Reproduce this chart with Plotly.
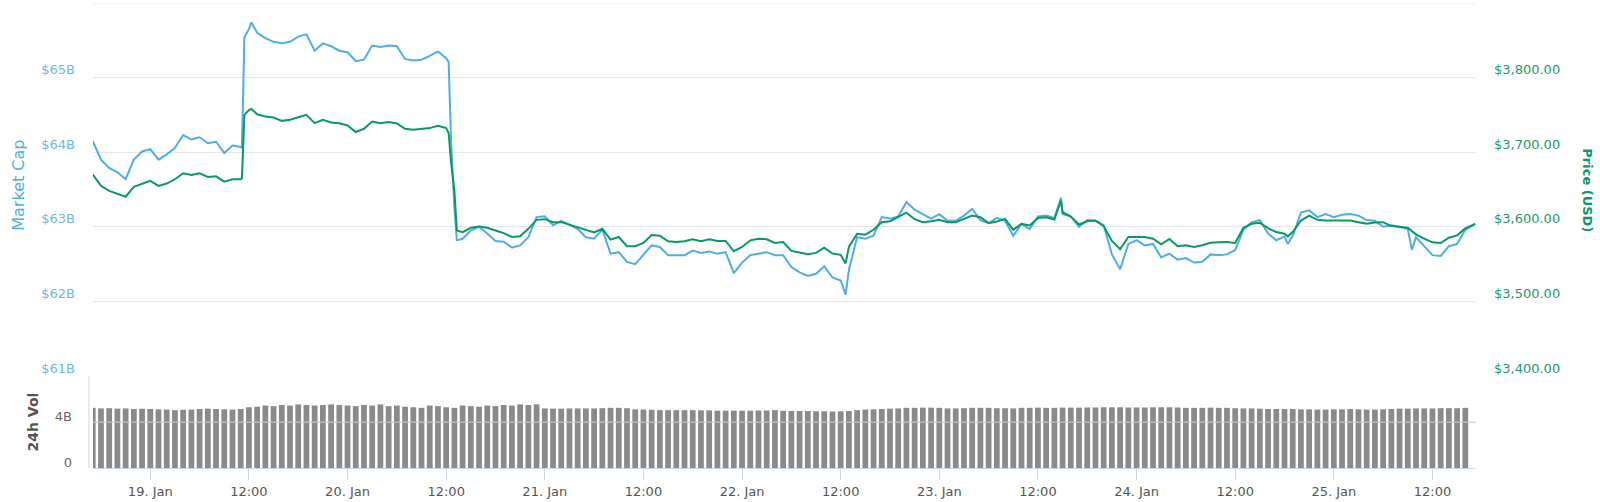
import pandas as pd
import plotly.graph_objects as go

# hours relative to 19 Jan 2019 00:00
hours = [-7, -6, -5, -4, -3, -2, -1, 0, 1, 2, 3, 4, 5, 6, 7, 8, 9, 10, 11, 11.15, 11.45,
         12, 12.3, 13, 14, 15, 16, 17, 18, 19, 20, 21, 22, 23, 24, 25, 26, 27, 28, 29, 30,
         31, 32, 33, 34, 35, 36, 36.3, 36.6, 37, 37.3, 38, 39, 40, 41, 42, 43, 44, 45,
         46, 47, 48, 49, 50, 51, 52, 53, 54, 55, 56, 57, 58, 59, 60, 61, 62, 63, 64,
         65, 66, 67, 68, 69, 70, 71, 72, 73, 74, 75, 76, 77, 78, 79, 80, 81, 82, 83,
         84, 84.6, 85, 86, 87, 88, 89, 90, 91, 92, 93, 94, 95, 96, 97, 98, 99, 100,
         101, 102, 103, 104, 105, 106, 107, 108, 109, 110, 110.8, 111, 112, 113, 114,
         115, 116, 117, 118, 119, 120, 121, 122, 123, 124, 125, 126, 127, 128, 129,
         130, 131, 132, 133, 134, 135, 136, 137, 138, 138.4, 139, 140, 141, 142, 143,
         144, 145, 146, 147, 148, 149, 150, 151, 152, 153, 153.5, 154, 155, 156, 157,
         158, 159, 160, 161.2]

market_cap_b = [64.15, 63.90, 63.79, 63.73, 63.64, 63.90, 64.01, 64.04, 63.90, 63.97, 64.06,
                64.23, 64.17, 64.20, 64.12, 64.14, 63.99, 64.09, 64.07, 64.06, 65.54,
                65.65, 65.74, 65.60, 65.53, 65.48, 65.46, 65.48, 65.55, 65.58, 65.36, 65.46,
                65.42, 65.36, 65.34, 65.22, 65.24, 65.43, 65.41, 65.43, 65.42, 65.25,
                65.23, 65.24, 65.29, 65.35, 65.26, 65.21, 64.15, 63.26, 62.82, 62.84,
                62.95, 63.00, 62.91, 62.81, 62.80, 62.72, 62.75, 62.86, 63.13, 63.14,
                63.02, 63.08, 63.03, 62.97, 62.86, 62.84, 62.96, 62.64, 62.66, 62.53,
                62.50, 62.63, 62.75, 62.73, 62.62, 62.62, 62.62, 62.68, 62.65, 62.67,
                62.64, 62.66, 62.38, 62.52, 62.62, 62.64, 62.66, 62.62, 62.62, 62.46,
                62.39, 62.34, 62.37, 62.47, 62.32, 62.28, 62.09, 62.42, 62.86, 62.84,
                62.88, 63.13, 63.11, 63.14, 63.33, 63.23, 63.17, 63.11, 63.17, 63.08,
                63.08, 63.15, 63.24, 63.09, 63.05, 63.12, 63.08, 62.88, 63.04, 62.97,
                63.14, 63.15, 63.12, 63.39, 63.17, 63.14, 63.00, 63.09, 63.08, 63.02,
                62.63, 62.43, 62.77, 62.82, 62.75, 62.77, 62.59, 62.64, 62.56, 62.58,
                62.52, 62.53, 62.63, 62.62, 62.63, 62.69, 62.96, 63.06, 63.09, 62.91,
                62.82, 62.87, 62.77, 62.88, 63.19, 63.22, 63.13, 63.17, 63.13, 63.16,
                63.17, 63.15, 63.09, 63.08, 63.00, 63.02, 63.00, 62.97, 62.69, 62.86,
                62.74, 62.62, 62.61, 62.74, 62.77, 62.96, 63.04]

price_usd = [3670.3, 3654.9, 3648.2, 3643.8, 3640.3, 3653.5, 3657.1, 3661.5, 3654.9, 3658.0,
             3663.7, 3671.7, 3669.5, 3671.7, 3666.8, 3667.7, 3660.6, 3663.7, 3663.7, 3665.0,
             3750.0, 3756.6, 3758.0, 3750.9, 3747.8, 3746.5, 3742.0, 3743.4, 3746.9, 3750.0, 3738.9,
             3743.4, 3739.8, 3738.9, 3735.8, 3727.0, 3731.4, 3741.1, 3738.9, 3740.3, 3738.5,
             3731.4, 3730.1, 3731.4, 3732.3, 3735.4, 3732.3, 3725.7, 3686.0, 3648.2, 3595.1,
             3592.9, 3598.7, 3600.4, 3598.7, 3595.1, 3591.6, 3586.3, 3587.2, 3597.3, 3609.3,
             3610.2, 3606.2, 3606.2, 3602.6, 3599.5, 3596.0, 3592.5, 3597.3, 3582.7, 3586.3,
             3573.9, 3573.9, 3578.3, 3588.9, 3588.0, 3580.5, 3579.6, 3580.5, 3583.2, 3580.5,
             3583.2, 3581.0, 3581.0, 3567.2, 3573.0, 3581.8, 3584.1, 3583.2, 3578.3, 3579.6,
             3567.7, 3565.5, 3563.3, 3565.0, 3572.1, 3564.1, 3562.4, 3550.9, 3573.0, 3590.7,
             3589.4, 3596.0, 3606.2, 3607.5, 3612.8, 3619.0, 3610.2, 3606.2, 3607.5, 3609.3,
             3606.2, 3606.2, 3610.6, 3615.0, 3612.8, 3604.9, 3607.1, 3610.6, 3596.0, 3604.0,
             3601.8, 3611.9, 3612.8, 3609.7, 3634.9, 3619.5, 3613.7, 3603.1, 3607.5, 3608.4,
             3600.9, 3581.0, 3569.9, 3586.3, 3586.3, 3586.3, 3584.1, 3576.5, 3583.6, 3573.9,
             3575.2, 3573.0, 3575.2, 3578.7, 3579.2, 3579.6, 3578.3, 3598.7, 3604.0, 3605.3,
             3598.2, 3592.9, 3590.7, 3587.2, 3592.9, 3608.4, 3615.0, 3609.3, 3608.4, 3608.4,
             3609.3, 3608.4, 3606.2, 3604.0, 3605.7, 3606.2, 3600.9, 3599.5, 3598.7, 3594.2,
             3589.8, 3584.1, 3579.2, 3578.3, 3585.4, 3588.5, 3597.8, 3604.0]

vol_hours = list(range(-7, 161))
volume_b = [5.25, 5.20, 5.22, 5.18, 5.20, 5.15, 5.17,
            5.15, 5.12, 5.10, 5.05, 5.08, 5.10, 5.15, 5.18, 5.15, 5.12, 5.10, 5.15,
            5.30, 5.35, 5.45, 5.40, 5.50, 5.45, 5.55, 5.50, 5.45, 5.50, 5.55, 5.50,
            5.45, 5.40, 5.50, 5.45, 5.55, 5.40, 5.45, 5.35, 5.30, 5.25, 5.45, 5.40,
            5.30, 5.25, 5.45, 5.40, 5.35, 5.45, 5.40, 5.50, 5.45, 5.55, 5.50, 5.55,
            5.20, 5.18, 5.18, 5.20, 5.20, 5.20, 5.20, 5.22, 5.25, 5.25, 5.22, 5.12,
            5.10, 5.08, 5.05, 5.05, 5.05, 5.05, 5.05, 5.03, 5.03, 5.00, 5.00, 5.00,
            5.00, 5.00, 5.02, 5.02, 5.05, 5.00, 4.98, 4.97, 4.97, 4.95, 4.95, 4.93,
            4.95, 4.97, 5.05, 5.10, 5.12, 5.15, 5.18, 5.20, 5.25, 5.25, 5.27, 5.27,
            5.25, 5.20, 5.20, 5.22, 5.25, 5.25, 5.25, 5.22, 5.22, 5.20, 5.25, 5.25,
            5.27, 5.25, 5.25, 5.27, 5.27, 5.27, 5.28, 5.28, 5.30, 5.30, 5.30, 5.28,
            5.28, 5.28, 5.30, 5.30, 5.30, 5.28, 5.25, 5.25, 5.25, 5.27, 5.25, 5.25,
            5.22, 5.20, 5.20, 5.18, 5.15, 5.15, 5.15, 5.15, 5.12, 5.12, 5.10, 5.10,
            5.12, 5.12, 5.15, 5.12, 5.10, 5.10, 5.12, 5.15, 5.18, 5.18, 5.20, 5.20,
            5.20, 5.22, 5.22, 5.22, 5.25]

tick_hours = list(range(0, 157, 12))
tick_labels = ["19. Jan", "12:00", "20. Jan", "12:00", "21. Jan", "12:00", "22. Jan", "12:00",
               "23. Jan", "12:00", "24. Jan", "12:00", "25. Jan", "12:00"]

cap_ticks = [61, 62, 63, 64, 65, 66]
cap_labels = ["$61B", "$62B", "$63B", "$64B", "$65B", ""]
price_ticks = [3400, 3500, 3600, 3700, 3800, 3900]
price_labels = ["$3,400.00", "$3,500.00", "$3,600.00", "$3,700.00", "$3,800.00", ""]
vol_ticks = [0, 4]
vol_labels = ["0", "4B"]

base = pd.Timestamp("2019-01-19 00:00")
to_t = lambda hs: [base + pd.Timedelta(hours=h) for h in hs]

BLUE = "#4fade8"
GREEN = "#089a62"
FONT = "DejaVu Sans"

fig = go.Figure()
fig.add_trace(go.Bar(x=to_t(vol_hours), y=volume_b, xaxis="x", yaxis="y3",
                     marker=dict(color="#8a8a8a", line=dict(width=0)), showlegend=False))
fig.add_trace(go.Scatter(x=to_t(hours), y=market_cap_b, xaxis="x", yaxis="y", mode="lines",
                         line=dict(color=BLUE, width=2), showlegend=False))
fig.add_trace(go.Scatter(x=to_t(hours), y=price_usd, xaxis="x", yaxis="y2", mode="lines",
                         line=dict(color=GREEN, width=2), showlegend=False))

split = (473 - 380) / 470

fig.update_layout(
    width=1600, height=502,
    margin=dict(l=93, r=124, t=3, b=29),
    paper_bgcolor="white", plot_bgcolor="white",
    bargap=0.3,
    font=dict(family=FONT, size=13, color="#666666"),
    xaxis=dict(
        type="date", anchor="y3",
        range=[base + pd.Timedelta(hours=-6.97), base + pd.Timedelta(hours=161.3)],
        tickvals=to_t(tick_hours), ticktext=tick_labels,
        showgrid=False, showline=True, linecolor="#ccd6eb", linewidth=1,
        ticks="outside", ticklen=11, tickcolor="#ccd6eb",
        tickfont=dict(family=FONT, size=13, color="#555555"),
        zeroline=False,
    ),
    yaxis=dict(
        domain=[split, 1], range=[61, 66], tickvals=cap_ticks, ticktext=cap_labels,
        showgrid=True, gridcolor="#e6e6e6", gridwidth=1, zeroline=False,
        tickfont=dict(family=FONT, size=13, color="#6cb8e6"),
        ticklabelshift=-8, ticklabelstandoff=17,
    ),
    yaxis2=dict(
        overlaying="y", side="right", anchor="x", range=[3400, 3900],
        tickvals=price_ticks, ticktext=price_labels, showgrid=False, zeroline=False,
        tickfont=dict(family=FONT, size=13, color="#1e9a68"),
        ticklabelshift=-8, ticklabelstandoff=17,
    ),
    yaxis3=dict(
        domain=[0, split], range=[0, 8.03], tickvals=vol_ticks, ticktext=vol_labels,
        showgrid=True, gridcolor="#e6e6e6", zeroline=False,
        tickfont=dict(family=FONT, size=13, color="#666666"),
        ticklabelshift=-6, ticklabelstandoff=20,
    ),
    shapes=[
        dict(type="line", xref="paper", yref="paper", x0=-4 / 1383, x1=-4 / 1383,
             y0=0, y1=split, line=dict(color="#ccd6eb", width=1)),
        dict(type="line", xref="paper", yref="y3", x0=0, x1=1, y0=4, y1=4,
             layer="above", line=dict(color="#cfcfcf", width=1)),
        dict(type="line", xref="paper", yref="y", x0=0, x1=1, y0=66, y1=66,
             layer="below", line=dict(color="#e6e6e6", width=1)),
    ],
    annotations=[
        dict(text="Market Cap", xref="paper", yref="paper", x=(17.7 - 93) / 1383,
             y=(473 - 187) / 470, textangle=-90, showarrow=False,
             font=dict(family=FONT, size=16, color=BLUE), xanchor="center", yanchor="middle"),
        dict(text="<b>Price (USD)</b>", xref="paper", yref="paper", x=(1586.7 - 93) / 1383,
             y=(473 - 192) / 470, textangle=90, showarrow=False,
             font=dict(family=FONT, size=13, color=GREEN), xanchor="center", yanchor="middle"),
        dict(text="<b>24h Vol</b>", xref="paper", yref="paper", x=(32 - 93) / 1383,
             y=(473 - 426) / 470, textangle=-90, showarrow=False,
             font=dict(family=FONT, size=14, color="#555555"), xanchor="center", yanchor="middle"),
    ],
)

fig.write_html("out.html", config={"displayModeBar": False},
               post_script="document.body.style.margin='0px';")
